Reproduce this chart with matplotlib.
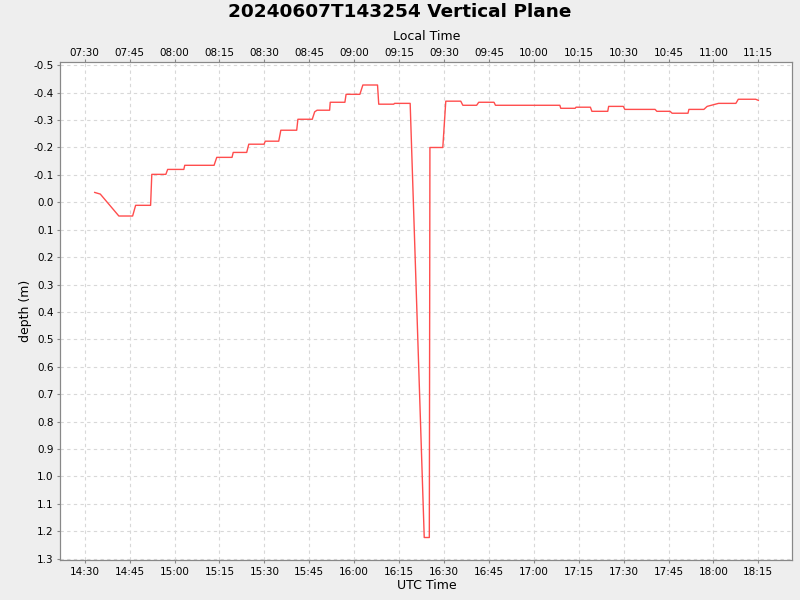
import matplotlib
matplotlib.use("Agg")
import matplotlib.pyplot as plt
import matplotlib.dates as mdates
from matplotlib.ticker import FuncFormatter, MultipleLocator
import pandas as pd
import datetime as dt

# UTC sample times and depths (m)
times = ["14:33:20", "14:35:12", "14:41:24", "14:46:00", "14:47:00", "14:52:00",
         "14:52:24", "14:57:06", "14:57:42", "15:03:06", "15:03:24", "15:13:12",
         "15:14:06", "15:19:12", "15:19:36", "15:24:06", "15:24:48", "15:29:54",
         "15:30:18", "15:34:48", "15:35:30", "15:40:48", "15:41:12", "15:46:00",
         "15:46:48", "15:47:36", "15:51:48", "15:52:00", "15:56:54", "15:57:18",
         "16:01:54", "16:02:54", "16:07:48", "16:08:12", "16:13:12", "16:13:30",
         "16:18:42", "16:23:24", "16:25:06", "16:25:18", "16:29:36", "16:30:36",
         "16:35:36", "16:36:18", "16:40:54", "16:41:36", "16:46:42", "16:47:12",
         "17:08:42", "17:09:00", "17:13:48", "17:14:06", "17:18:54", "17:19:24",
         "17:24:42", "17:25:00", "17:29:54", "17:30:24", "17:40:30", "17:41:06",
         "17:45:30", "17:46:12", "17:51:30", "17:51:48", "17:56:48", "17:57:54",
         "18:01:42", "18:07:30", "18:08:18", "18:14:06", "18:15:00"]
depths = [-0.036, -0.030, 0.050, 0.050, 0.011, 0.011,
          -0.102, -0.102, -0.120, -0.120, -0.135, -0.135,
          -0.164, -0.164, -0.182, -0.182, -0.212, -0.212,
          -0.223, -0.223, -0.263, -0.263, -0.303, -0.303,
          -0.330, -0.336, -0.336, -0.365, -0.365, -0.394,
          -0.394, -0.428, -0.428, -0.358, -0.358, -0.361,
          -0.361, 1.223, 1.223, -0.200, -0.200, -0.369,
          -0.369, -0.354, -0.354, -0.365, -0.365, -0.354,
          -0.354, -0.343, -0.343, -0.347, -0.347, -0.332,
          -0.332, -0.350, -0.350, -0.339, -0.339, -0.332,
          -0.332, -0.325, -0.325, -0.339, -0.339, -0.350,
          -0.361, -0.361, -0.376, -0.376, -0.372]

title = "20240607T143254 Vertical Plane"
date = "2024-06-07"
utc_offset_hours = -7

t = pd.to_datetime([f"{date} {s}" for s in times])

fig = plt.figure(figsize=(8, 6), dpi=100, facecolor="#eeeeee")
ax = fig.add_axes([0.0756, 0.0667, 0.915, 0.8300])
ax.set_facecolor("white")
ax.plot(t, depths, color="#ff4d4d", linewidth=1.0)

x0 = pd.Timestamp(f"{date} 14:21:54")
x1 = pd.Timestamp(f"{date} 18:26:24")
ax.set_xlim(x0, x1)
ax.set_ylim(1.305, -0.512)

ax.xaxis.set_major_locator(mdates.MinuteLocator(byminute=[0, 15, 30, 45]))
ax.xaxis.set_major_formatter(mdates.DateFormatter("%H:%M"))
ax.yaxis.set_major_locator(MultipleLocator(0.1))
ax.yaxis.set_major_formatter(FuncFormatter(lambda v, p: f"{v:.1f}".replace("-0.0", "0.0")))

ax.grid(True, color="#d8d8d8", linestyle=(0, (3, 3)), linewidth=0.8)
for s in ax.spines.values():
    s.set_color("#888888")
ax.tick_params(labelsize=7.5, color="#888888", length=2.5, width=0.8, pad=2.5)
ax.set_xlabel("UTC Time", fontsize=9, labelpad=1.5)
ax.set_ylabel("depth (m)", fontsize=9, labelpad=1)

ax2 = ax.twiny()
ax2.set_xlim(ax.get_xlim())
ax2.xaxis.set_major_locator(mdates.MinuteLocator(byminute=[0, 15, 30, 45]))
ax2.xaxis.set_major_formatter(FuncFormatter(
    lambda v, p: (mdates.num2date(v) + dt.timedelta(hours=utc_offset_hours)).strftime("%H:%M")))
for s in ax2.spines.values():
    s.set_color("#888888")
ax2.tick_params(labelsize=7.5, color="#888888", length=2.5, width=0.8, pad=0.5)
ax2.set_xlabel("Local Time", fontsize=9, labelpad=5.5)

fig.text(0.5, 1 - 12 / 600, title, ha="center", va="center", fontsize=13.3, fontweight="bold")

fig.savefig("out.png", dpi=100, facecolor=fig.get_facecolor())
